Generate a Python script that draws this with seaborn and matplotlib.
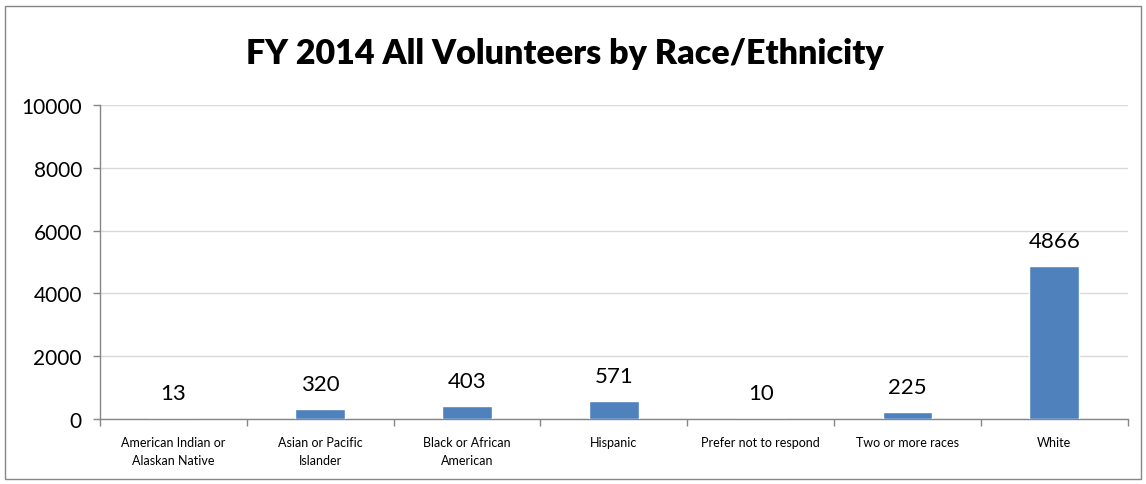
import matplotlib
matplotlib.use("Agg")
import matplotlib.pyplot as plt
import seaborn as sns
import pandas as pd
import numpy as np
from matplotlib.patches import Rectangle
from matplotlib.ticker import FixedLocator, MultipleLocator

categories = ["American Indian or\nAlaskan Native", "Asian or Pacific\nIslander",
              "Black or African\nAmerican", "Hispanic", "Prefer not to respond",
              "Two or more races", "White"]
values = [13, 320, 403, 571, 10, 225, 4866]
title = "FY 2014 All Volunteers by Race/Ethnicity"

sns.set_theme(style="white")
plt.rcParams['font.family'] = ['Lato', 'DejaVu Sans']

df = pd.DataFrame({"cat": categories, "val": values})

fig = plt.figure(figsize=(11.46, 4.85), dpi=100)
ax = fig.add_axes([0.0873, 0.134, 0.8967, 0.6474])

sns.barplot(data=df, x="cat", y="val", color="#4F81BD", width=0.34, saturation=1,
            ax=ax, zorder=3)

ax.set_ylim(0, 10000)
ax.set_xlim(-0.5, len(categories) - 0.5)
ax.yaxis.set_major_locator(MultipleLocator(2000))
ax.grid(axis="y", color="#D9D9D9", linewidth=1, zorder=0)
ax.set_axisbelow(True)
ax.set_xlabel("")
ax.set_ylabel("")

for s in ["top", "right"]:
    ax.spines[s].set_visible(False)
for s in ["left", "bottom"]:
    ax.spines[s].set_color("#868686")
    ax.spines[s].set_linewidth(1)

ax.tick_params(axis="y", which="major", direction="out", length=5, width=1,
               color="#868686", labelsize=15, labelcolor="black", left=True, pad=8)
ax.tick_params(axis="x", which="major", length=0, labelsize=9, labelcolor="black", pad=12)
for lbl in ax.get_xticklabels():
    lbl.set_linespacing(1.65)
ax.xaxis.set_minor_locator(FixedLocator(np.arange(-0.5, len(categories), 1.0)))
ax.tick_params(axis="x", which="minor", direction="out", length=5, width=1,
               color="#868686", bottom=True)

for i, v in enumerate(values):
    ax.annotate(f"{v}", xy=(i, v), xytext=(0, 11), textcoords="offset points",
                ha="center", va="bottom", fontsize=16, color="black")

fig.text(0.493, 0.889, title, ha="center", va="center", fontsize=24.5,
         fontweight="heavy", color="black")

fig.patches.append(Rectangle((5 / 1146, 5 / 485), 1136 / 1146, 473 / 485,
                             transform=fig.transFigure, fill=False,
                             edgecolor="#868686", linewidth=1))

fig.savefig("out.png", dpi=100)
